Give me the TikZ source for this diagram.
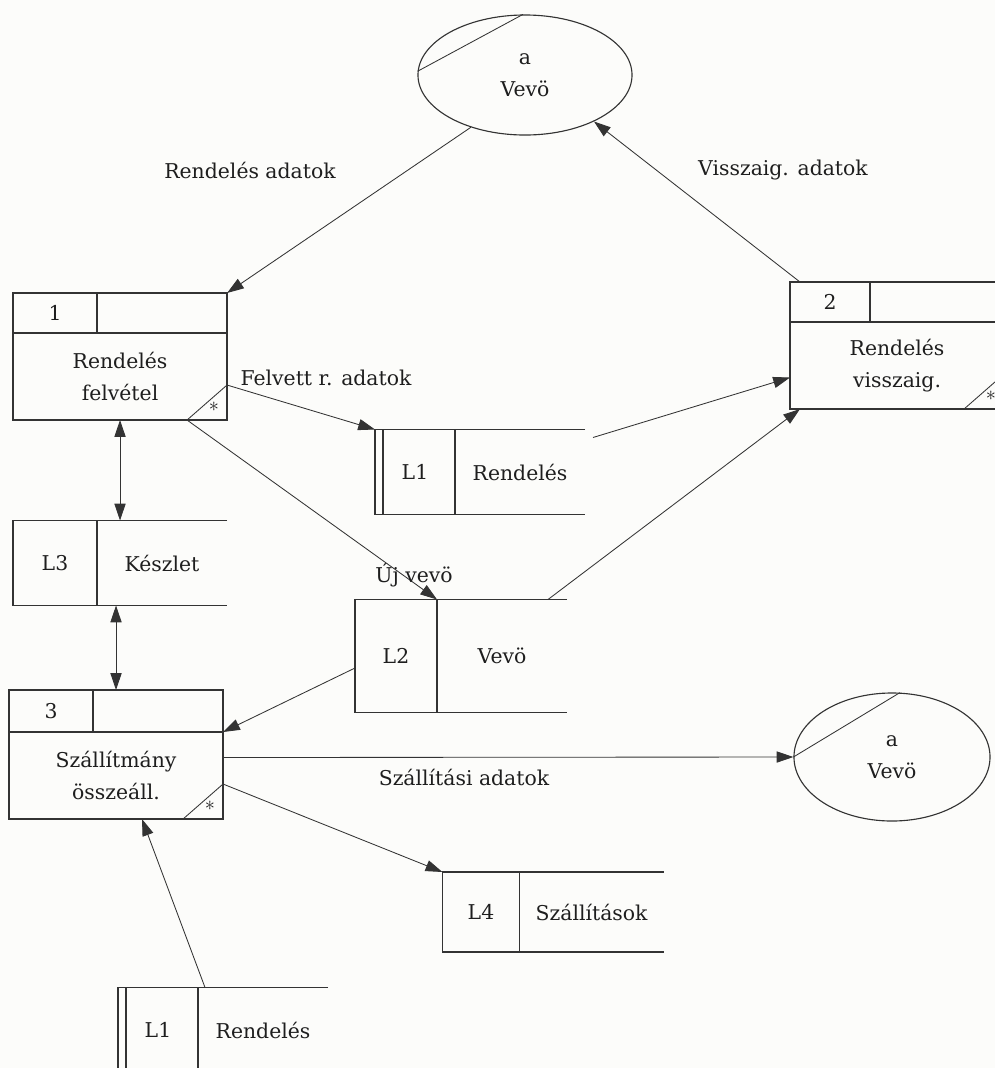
\documentclass[tikz,border=0pt]{standalone}
\usepackage{fontspec}
\setmainfont{DejaVu Serif}
\usepackage{tikz}
\usetikzlibrary{arrows.meta, positioning, shapes.geometric, calc}
\definecolor{ink}{HTML}{333333}
\definecolor{inktext}{HTML}{1E1E1E}
\definecolor{paper}{HTML}{FCFCFA}

\begin{document}
\begin{tikzpicture}[
        x=0.025cm, y=0.025cm,
        font=\fontsize{14.5}{22.5}\selectfont,
        every node/.style={text=inktext},
        pnum/.style={
            rectangle,
            draw=ink,
            line width=0.8pt,
            minimum width=2.1cm,
            minimum height=1cm,
            outer sep=0pt,
            inner sep=0pt
        },
        pblank/.style={pnum, minimum width=3.25cm},
        pbody/.style={pnum, minimum width=5.35cm, minimum height=2.175cm, align=center},
        sid/.style={rectangle, minimum width=2cm, minimum height=2.125cm, outer sep=0pt, inner sep=0pt},
        sname/.style={sid, minimum width=3.25cm},
        entity/.style={ellipse, draw=ink, line width=0.8pt, minimum width=5.35cm, minimum height=3cm, align=center, inner sep=0pt},
        flow/.style={draw=ink, line width=0.6pt, -{Triangle[length=4.2mm, width=2.8mm]}},
        both/.style={flow, {Triangle[length=4.2mm, width=2.8mm]}-{Triangle[length=4.2mm, width=2.8mm]}},
        lbl/.style={font=\fontsize{14.5}{18}\selectfont}
    ]

    \useasboundingbox (0,0) rectangle (995,-1068);
    \fill[paper] (0,0) rectangle (995,-1068);
    \clip (0,0) rectangle (995,-1068);

    % Külső egyedek: Vevö
    \node[entity] (v1) at (525,-75) {a\\Vevö};
    \node[entity, minimum width=4.9cm, minimum height=3.2cm] (v2) at (892,-757) {a\\Vevö};
    \draw[ink, line width=0.6pt] (v1.178) -- (v1.92);
    \draw[ink, line width=0.6pt] (v2.180) -- (v2.83);

    % 1: Rendelés felvétel
    \node[pnum] (p1) at (55,-313) {1};
    \node[pblank, right=0pt of p1] (p1e) {};
    \node[pbody, anchor=north west] (p1b) at (p1.south west) {Rendelés\\felvétel};

    % 2: Rendelés visszaig.
    \node[pnum, minimum width=2cm] (p2) at (830,-302) {2};
    \node[pblank, right=0pt of p2] (p2e) {};
    \node[pbody, anchor=north west] (p2b) at (p2.south west) {Rendelés\\visszaig.};

    % 3: Szállítmány összeáll.
    \node[pnum, minimum height=1.05cm] (p3) at (51,-711) {3};
    \node[pblank, minimum height=1.05cm, right=0pt of p3] (p3e) {};
    \node[pbody, anchor=north west] (p3b) at (p3.south west) {Szállítmány\\összeáll.};

    % sarokjelek
    \foreach \p in {p1b, p2b, p3b} {
        \draw[ink, line width=0.6pt] ($(\p.south east)+(0,35)$) -- ($(\p.south east)+(-40,0)$);
        \node[font=\Large, inner sep=0pt] at ($(\p.south east)+(-13,13)$) {$\ast$};
    }

    % Adattárak
    \node[sid] (l1) at (415,-472) {L1};
    \node[sname, right=0pt of l1] (l1n) {Rendelés};
    \node[sid, minimum width=2.1cm] (l3) at (55,-563) {L3};
    \node[sname, right=0pt of l3] (l3n) {Készlet};
    \node[sid, minimum width=2.05cm, minimum height=2.825cm] (l2) at (396,-656) {L2};
    \node[sname, minimum height=2.825cm, right=0pt of l2] (l2n) {Vevö};
    \node[sid, minimum width=1.93cm, minimum height=2cm] (l4) at (481,-912) {L4};
    \node[sname, minimum width=3.6cm, minimum height=2cm, right=0pt of l4] (l4n) {Szállítások};
    \node[sid] (l1b) at (158,-1030) {L1};
    \node[sname, right=0pt of l1b] (l1bn) {Rendelés};

    \foreach \s in {l1, l3, l2, l4, l1b} {
        \draw[ink, line width=0.8pt] (\s n.north east) -- (\s.north west) -- (\s.south west) -- (\s n.south east);
        \draw[ink, line width=0.8pt] (\s.north east) -- (\s.south east);
    }
    \draw[ink, line width=0.8pt] ($(l1.north west)+(8,0)$) -- ($(l1.south west)+(8,0)$);
    \draw[ink, line width=0.8pt] ($(l1b.north west)+(8,0)$) -- ($(l1b.south west)+(8,0)$);

    % Adatfolyamok
    \draw[flow] (v1.224) -- (p1e.north east);
    \draw[flow] ($(p2.north west)+(10,0)$) -- (v1.326);
    \draw[flow] ($(p1b.south east)+(0,35)$) -- (l1.north west);
    \draw[flow] ($(l1n.north east)+(8,-8)$) -- ($(p2b.west)+(0,-12)$);
    \draw[flow] ($(p1b.south east)+(-40,0)$) -- (l2.north east);
    \draw[flow] ($(l2n.north)+(46,0)$) -- ($(p2b.south west)+(10,0)$);
    \draw[flow] ($(l2.west)+(0,-12)$) -- (p3e.south east);
    \draw[flow] ($(p3b.east)+(0,18)$) -- (v2.west);
    \draw[flow] ($(p3b.south east)+(0,35)$) -- (l4.north west);
    \draw[flow] ($(l1b.north east)+(7,0)$) -- ($(p3b.south)+(26,0)$);
    \draw[both] (p1b.south) -- (p1b.south |- l3n.north);
    \draw[both] (p3b.north |- l3.south) -- (p3b.north |- p3.north);

    % Feliratok
    \node[lbl] (t1) at (250,-170) {Rendelés adatok};
    \node[lbl] (t2) at (783,-170) {Visszaig. adatok};
    \node[lbl] (t3) at (326,-378) {Felvett r. adatok};
    \node[lbl] (t4) at (414,-575) {Új vevö};
    \node[lbl] (t5) at (464,-777) {Szállítási adatok};

\end{tikzpicture}
\end{document}
